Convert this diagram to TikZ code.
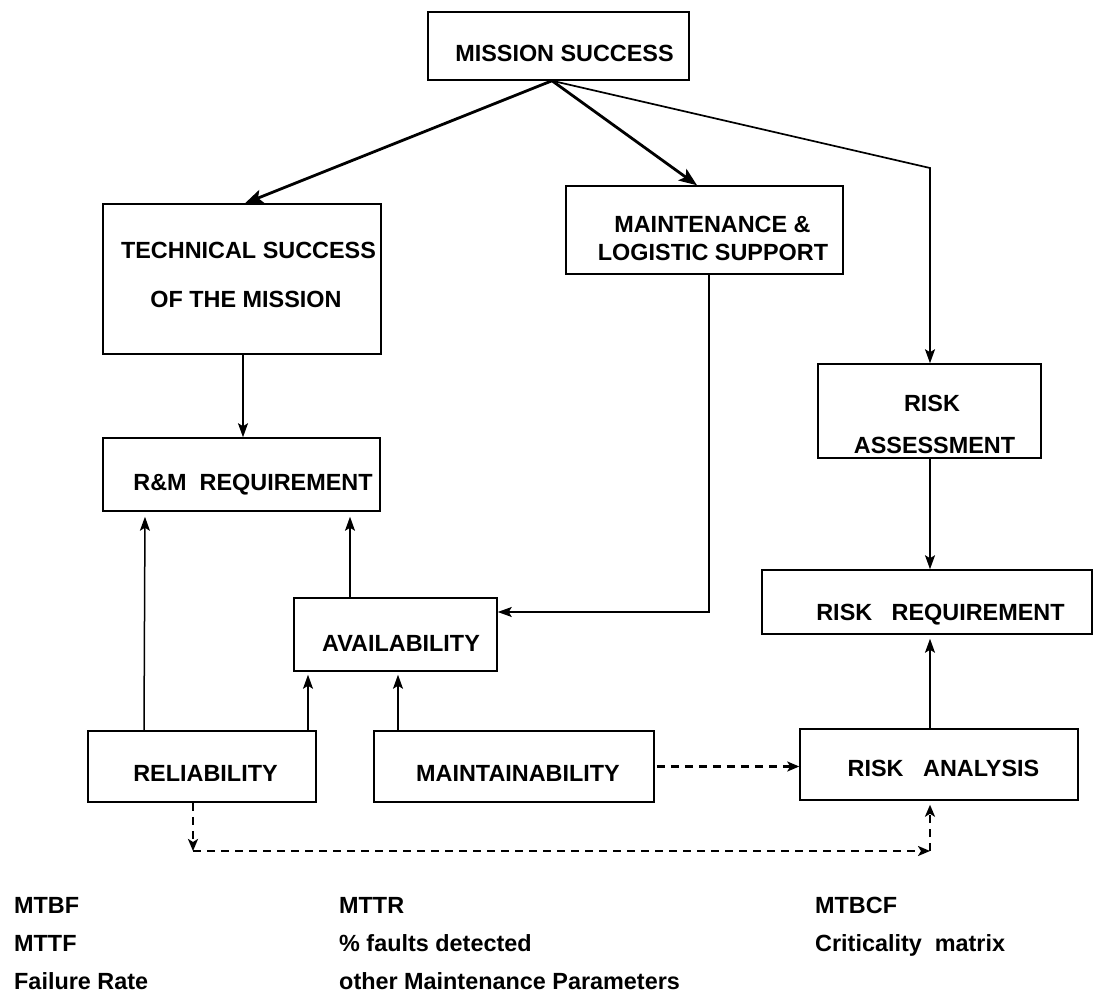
\documentclass[tikz,border=0pt]{standalone}
\usepackage{fontspec}
\setmainfont{Liberation Sans}
\usetikzlibrary{arrows.meta}
\newcommand{\bt}[3]{\makebox[0pt]{\hspace*{#1pt}\smash{\raisebox{#2pt}{#3}}}}
\begin{document}
\begin{tikzpicture}[x=1pt,y=-1pt,
  box/.style={draw, line width=1.5pt, inner sep=0pt, font=\fontsize{23.4}{28}\selectfont\bfseries},
  conn/.style={line width=1.5pt, -{Stealth[length=14pt,width=10pt,inset=3pt]}},
  thickconn/.style={line width=2.8pt, -{Stealth[length=18pt,width=14pt,inset=4pt]}},
  dconn/.style={line width=2.4pt, dash pattern=on 8pt off 6pt, -{Stealth[length=12pt,width=10pt,inset=3pt]}},
  note/.style={inner sep=0pt, anchor=base west, font=\fontsize{23.4}{28}\selectfont\bfseries}
]
\useasboundingbox (0,0) rectangle (1093,992);
% boxes
\node[box, minimum width=261pt, minimum height=68pt] (ms) at (558.5,46) {\bt{12}{-15.4}{MISSION SUCCESS}};
\node[box, minimum width=278pt, minimum height=150pt] (tech) at (242,279) {\bt{13}{20.6}{TECHNICAL SUCCESS}\bt{8}{-28.4}{OF THE MISSION}};
\node[box, minimum width=277pt, minimum height=88pt] (mls) at (704.5,230) {\bt{16}{-2.4}{MAINTENANCE \&}\bt{17}{-30.4}{LOGISTIC SUPPORT}};
\node[box, minimum width=277pt, minimum height=73pt] (rm) at (241.5,474.5) {\bt{23}{-15.9}{R\&M\ \ REQUIREMENT}};
\node[box, minimum width=203pt, minimum height=73pt] (av) at (395.5,634.5) {\bt{11}{-16.9}{AVAILABILITY}};
\node[box, minimum width=223pt, minimum height=94pt] (rass) at (929.5,411) {\bt{5}{-0.4}{RISK}\bt{10}{-42.4}{ASSESSMENT}};
\node[box, minimum width=330pt, minimum height=64pt] (rreq) at (927,602) {\bt{27}{-18.4}{RISK\ \ \ REQUIREMENT}};
\node[box, minimum width=228pt, minimum height=71pt] (rel) at (202,766.5) {\bt{7}{-14.9}{RELIABILITY}};
\node[box, minimum width=280pt, minimum height=71pt] (mnt) at (514,766.5) {\bt{8}{-14.9}{MAINTAINABILITY}};
\node[box, minimum width=278pt, minimum height=71pt] (ran) at (939,764.5) {\bt{9}{-11.9}{RISK\ \ \ ANALYSIS}};
% connectors
\coordinate (apex) at ([xshift=-6.5pt]ms.south);
\coordinate (rbend) at (930,168);
\draw[thickconn] (apex) -- ([xshift=3pt]tech.north);
\draw[thickconn] (apex) -- ([xshift=-7.5pt]mls.north);
\draw[conn, line width=1.7pt] (apex) -- (rbend) -- ([xshift=0.5pt]rass.north);
\draw[conn] ([xshift=1pt]tech.south) -- ([xshift=1.5pt]rm.north);
\draw[conn, shorten >=5pt] ([xshift=-58pt]rel.north) -- ([xshift=-96.5pt]rm.south);
\draw[conn, shorten >=5pt] ([xshift=-45.5pt]av.north) -- ([xshift=108.5pt]rm.south);
\draw[conn, shorten >=3pt] ([xshift=106pt]rel.north) -- ([xshift=-87.5pt]av.south);
\draw[conn, shorten >=3pt] ([xshift=-116pt]mnt.north) -- ([xshift=2.5pt]av.south);
\draw[conn] ([xshift=4.5pt]mls.south) |- ([yshift=22.5pt]av.east);
\draw[conn] ([xshift=0.5pt]rass.south) -- ([xshift=3pt]rreq.north);
\draw[conn, shorten >=4pt] ([xshift=-9pt]ran.north) -- ([xshift=3pt]rreq.south);
\draw[dconn, shorten <=2pt] (mnt.east) -- (mnt.east -| ran.west);
\coordinate (d1) at (193,851);
\coordinate (d2) at (930,851);
\draw[dconn] ([xshift=-9pt]rel.south) -- (d1);
\draw[dconn] (d1) -- (d2);
\draw[dconn, shorten >=4pt] (d2) -- ([xshift=-9pt]ran.south);
% parameter lists
\node[note] (mtbf) at (14,913) {MTBF};
\node[note] (mttf) at (14,951) {MTTF};
\node[note] (fr) at (14,989) {Failure Rate};
\node[note] (mttr) at (339,913) {MTTR};
\node[note] (pfd) at (339,951) {\% faults detected};
\node[note] (omp) at (339,989) {other Maintenance Parameters};
\node[note] (mtbcf) at (815,913) {MTBCF};
\node[note] (cm) at (815,951) {Criticality\ \ matrix};
\end{tikzpicture}
\end{document}
